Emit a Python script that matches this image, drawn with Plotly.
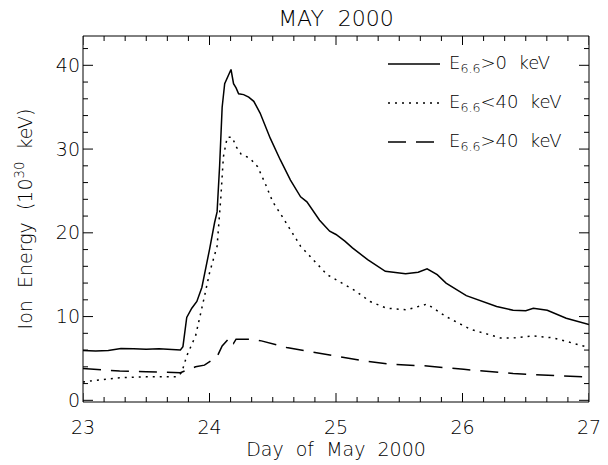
import plotly.graph_objects as go

# ---- data ----
total_day = [23.0, 23.1, 23.2, 23.3, 23.4, 23.5, 23.6, 23.7, 23.77, 23.79, 23.82, 23.86, 23.9,
             23.94, 23.97, 24.0, 24.04, 24.06, 24.08, 24.10, 24.12, 24.14, 24.17, 24.19, 24.21,
             24.23, 24.27, 24.31, 24.35, 24.40, 24.48, 24.56, 24.64, 24.72, 24.77, 24.87, 24.95,
             25.0, 25.07, 25.13, 25.25, 25.39, 25.55, 25.65, 25.72, 25.8, 25.87, 26.03, 26.19,
             26.27, 26.40, 26.5, 26.56, 26.67, 26.82, 27.0]
total_val = [5.95, 5.9, 5.95, 6.2, 6.15, 6.1, 6.15, 6.05, 6.0, 6.4, 9.9, 11.0, 11.8,
             13.5, 15.6, 18.0, 21.2, 22.5, 28.0, 35.0, 37.8, 38.4, 39.5, 37.8, 37.3,
             36.6, 36.5, 36.2, 35.7, 34.3, 31.3, 28.7, 26.3, 24.3, 23.7, 21.5, 20.2,
             19.8, 19.0, 18.2, 16.8, 15.4, 15.1, 15.3, 15.7, 15.0, 14.0, 12.5, 11.6,
             11.2, 10.75, 10.7, 11.0, 10.75, 9.8, 9.05]

low_day = [23.0, 23.29, 23.5, 23.74, 23.78, 23.82, 23.89, 23.92, 23.96, 24.0, 24.06, 24.09,
           24.11, 24.14, 24.18, 24.21, 24.25, 24.32, 24.38, 24.44, 24.50, 24.56, 24.64,
           24.72, 24.93, 25.14, 25.27, 25.40, 25.56, 25.72, 25.87, 26.06, 26.30, 26.40,
           26.56, 26.72, 27.0]
low_val = [2.2, 2.7, 2.8, 2.8, 3.3, 5.3, 7.7, 9.6, 12.4, 15.2, 18.4, 24.3,
           29.1, 31.4, 31.4, 30.3, 29.4, 28.9, 27.9, 25.9, 23.7, 22.3, 20.4,
           18.4, 15.0, 13.2, 11.8, 11.0, 10.8, 11.5, 10.0, 8.5, 7.45, 7.45,
           7.7, 7.45, 6.3]

high_day = [23.0, 23.29, 23.5, 23.77, 23.89, 23.96, 24.06, 24.10, 24.16, 24.19, 24.21,
            24.33, 24.41, 24.61, 24.82, 25.0, 25.22, 25.43, 25.72, 26.01, 26.40, 26.80, 27.0]
high_val = [3.8, 3.5, 3.4, 3.3, 4.0, 4.2, 5.2, 6.5, 7.5, 6.8, 7.3,
            7.3, 7.1, 6.3, 5.75, 5.3, 4.7, 4.3, 4.1, 3.7, 3.2, 2.9, 2.8]

SP = "\u00a0"
labels = ["E<sub>6.6</sub>>0" + SP + SP + "keV",
          "E<sub>6.6</sub>&lt;40" + SP + SP + "keV",
          "E<sub>6.6</sub>>40" + SP + SP + "keV"]
dashes = ["solid", "2px,5px", "18px,10px"]

x_major = [23, 24, 25, 26, 27]
y_major = [0, 10, 20, 30, 40]

FONT = "DejaVu Sans"
TXT = "#000000"
WT = 200

fig = go.Figure()
for xs, ys, dsh, name in [(total_day, total_val, dashes[0], labels[0]),
                          (low_day, low_val, dashes[1], labels[1]),
                          (high_day, high_val, dashes[2], labels[2])]:
    fig.add_trace(go.Scatter(x=xs, y=ys, mode="lines", name=name,
                             line=dict(color="black", width=1.5, dash=dsh),
                             showlegend=False))

# the page body keeps an 8px margin, so positions (in window pixels) are shifted by OFF
OFF = 8
W, H = 608, 465
L, R, T, B = 83 - OFF, 589 - OFF, 36 - OFF, 402 - OFF
PW, PH = R - L, B - T
def px(x):
    return (x - OFF - L) / PW
def py(y):
    return (B - (y - OFF)) / PH

# plot frame
fig.add_shape(type="rect", xref="paper", yref="paper", x0=0, x1=1, y0=0, y1=1,
              line=dict(color="black", width=1), layer="above")

# tick marks (inside, on all four sides)
tick_line = dict(color="black", width=1)
XMAJ, XMIN, YMAJ, YMIN = 9, 5, 10, 5
n_xminor = 6
for d in range(x_major[0] * n_xminor, x_major[-1] * n_xminor + 1):
    xv = d / n_xminor
    ln = XMAJ if d % n_xminor == 0 else XMIN
    for y0, y1 in [(0, ln / PH), (1, 1 - ln / PH)]:
        fig.add_shape(type="line", xref="x", yref="paper", x0=xv, x1=xv, y0=y0, y1=y1,
                      line=tick_line, layer="above")
for yv in range(0, 44, 2):
    ln = YMAJ if yv % 10 == 0 else YMIN
    for x0, x1 in [(0, ln / PW), (1, 1 - ln / PW)]:
        fig.add_shape(type="line", xref="paper", yref="y", x0=x0, x1=x1, y0=yv, y1=yv,
                      line=tick_line, layer="above")

# legend drawn by hand
rows = [64, 103, 142]
for lab, dsh, ry in zip(labels, dashes, rows):
    fig.add_shape(type="line", xref="paper", yref="paper",
                  x0=px(388), x1=px(440), y0=py(ry), y1=py(ry),
                  line=dict(color="black", width=1.5, dash=dsh))
    fig.add_annotation(xref="paper", yref="paper", x=px(447), y=py(ry),
                       xanchor="left", yanchor="middle", showarrow=False,
                       text=lab, font=dict(family=FONT, size=18, color=TXT, weight=WT))

axis_common = dict(showline=False, ticks="", showgrid=False, zeroline=False,
                   tickfont=dict(family=FONT, size=19, color=TXT, weight=WT))

fig.update_layout(
    width=W, height=H,
    margin=dict(l=L, r=W - R, t=T, b=H - B),
    plot_bgcolor="white", paper_bgcolor="white",
    title=dict(text="MAY" + SP + SP + "2000", x=(L + R) / 2 / W, xanchor="center",
               y=1 - (18.5 - OFF) / H, yanchor="middle",
               font=dict(family=FONT, size=22, color=TXT, weight=WT)),
    xaxis=dict(range=[23, 27], tickvals=x_major, ticklabelstandoff=12,
               title=dict(text="Day" + SP + SP + "of" + SP + SP + "May" + SP + SP + "2000",
                          standoff=4, font=dict(family=FONT, size=19, color=TXT, weight=WT)),
               **axis_common),
    yaxis=dict(range=[-0.2, 43.5], tickvals=y_major, ticklabelstandoff=2,
               title=dict(text="Ion" + SP + SP + "Energy" + SP + SP + "(10<sup>30</sup>" + SP + SP + "keV)",
                          standoff=18, font=dict(family=FONT, size=19, color=TXT, weight=WT)),
               **axis_common),
)

fig.write_html("out.html", config={"displayModeBar": False})
